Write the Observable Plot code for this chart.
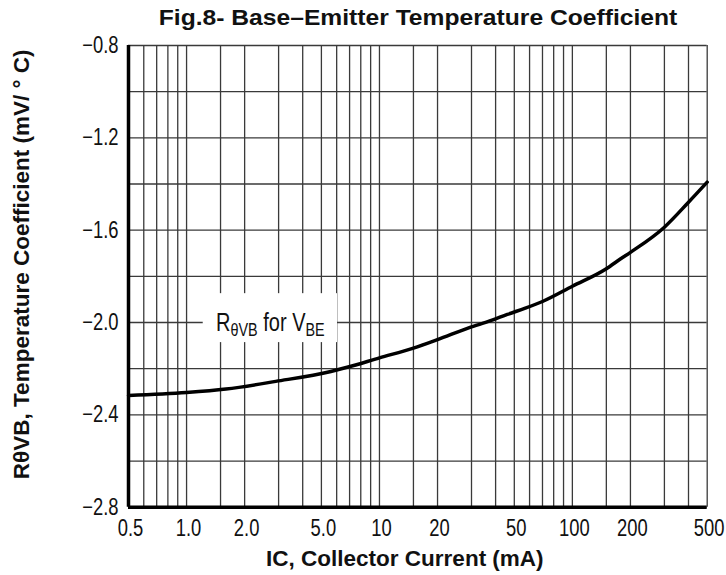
<!DOCTYPE html>
<html>
<head>
<meta charset="utf-8">
<script src="https://cdn.jsdelivr.net/npm/d3@7"></script>
<script src="https://cdn.jsdelivr.net/npm/@observablehq/plot@0.6"></script>
<style>
  html, body { margin: 0; padding: 0; background: #fff; }
  #wrap { position: relative; width: 726px; height: 575px; overflow: hidden; }
  #title { position: absolute; top: 7px; left: 110px; width: 616px; text-align: center;
           font: bold 22px/22px "Liberation Sans", Arial, sans-serif; color: #111;
           transform: scaleX(1.12); transform-origin: 308px 0; white-space: nowrap; }
  #chart { position: absolute; top: 30px; left: 0; }
</style>
</head>
<body>
<div id="wrap">
  <div id="title"></div>
  <div id="chart"></div>
</div>
<script>
// Collector current (mA) and base-emitter temperature coefficient (mV/°C)
const current = [0.5, 1.0, 1.6, 2.9, 5.6, 6.8, 10, 15, 20, 29, 38, 46, 57, 70, 100, 150, 178, 200, 300, 400, 500];
const coef = [-2.316, -2.303, -2.288, -2.255, -2.212, -2.194, -2.153, -2.111, -2.074, -2.023, -1.991, -1.965, -1.938, -1.909, -1.843, -1.767, -1.724, -1.696, -1.587, -1.479, -1.392];

const xTicks = [0.5, 1, 2, 5, 10, 20, 50, 100, 200, 500];
const xTickLabels = ["0.5", "1.0", "2.0", "5.0", "10", "20", "50", "100", "200", "500"];
const yTicks = [-0.8, -1.2, -1.6, -2.0, -2.4, -2.8];
const yTickLabels = ["−0.8", "−1.2", "−1.6", "−2.0", "−2.4", "−2.8"];
const xGrid = [0.5, 0.6, 0.7, 0.8, 0.9, 1, 1.5, 2, 3, 4, 5, 6, 7, 8, 9, 10, 15, 20, 30, 40, 50, 60, 70, 80, 90, 100, 150, 200, 300, 400, 500];
const yGrid = [-2.8, -2.6, -2.4, -2.2, -2.0, -1.8, -1.6, -1.4, -1.2, -1.0, -0.8];

const titleText = "Fig.8- Base–Emitter Temperature Coefficient";
const xLabel = "IC, Collector Current (mA)";
const yLabel = "RθVB, Temperature Coefficient (mV/ ° C)";
const curveLabel = "RθVB for VBE";

document.getElementById("title").textContent = titleText;

const sans = "'Liberation Sans', Arial, sans-serif";
const gridColor = "#3a3a3a";

const data = current.map((c, i) => ({current: c, coef: coef[i]}));

const chart = Plot.plot({
  width: 726,
  height: 545,
  marginTop: 15,
  marginBottom: 68.3,
  marginLeft: 128,
  marginRight: 19.3,
  style: {background: "white", color: "#111"},
  x: {type: "log", domain: [0.5, 500], axis: null},
  y: {domain: [-2.8, -0.8], axis: null},
  marks: [
    Plot.ruleX(xGrid, {stroke: gridColor, strokeWidth: 1.3}),
    Plot.ruleY(yGrid, {stroke: gridColor, strokeWidth: 1.3}),
    Plot.rect([curveLabel], {x1: 1.22, x2: 6.06, y1: -2.087, y2: -1.875, fill: "white"}),
    Plot.text([curveLabel], {x: 2.72, y: -2.0, text: d => d, fontFamily: sans, fontSize: 25, fill: "#111"}),
    Plot.line(data, {x: "current", y: "coef", curve: "monotone-x", stroke: "black", strokeWidth: 3.5}),
    Plot.ruleX([0.5], {stroke: "black", strokeWidth: 3.5}),
    Plot.ruleY([-2.8], {stroke: "black", strokeWidth: 3.5}),
    Plot.text(xTicks, {x: d => d, text: (d, i) => xTickLabels[i], frameAnchor: "bottom", lineAnchor: "top",
                       textAnchor: "middle", dx: 2, dy: 12, fontSize: 23, fontFamily: sans, fill: "#111"}),
    Plot.text(yTicks, {y: d => d, text: (d, i) => yTickLabels[i], frameAnchor: "left", lineAnchor: "middle",
                       textAnchor: "end", dx: -10, fontSize: 23, fontFamily: sans, fill: "#111"}),
    Plot.text([yLabel], {frameAnchor: "left", textAnchor: "middle", lineAnchor: "middle", dx: -107, dy: -12,
                         rotate: -90, text: d => d,
                         fontSize: 22.5, fontWeight: "bold", fontFamily: sans, fill: "#111"}),
    Plot.text([xLabel], {frameAnchor: "bottom", textAnchor: "middle", lineAnchor: "middle", dx: -13, dy: 52,
                         text: d => d,
                         fontSize: 22.5, fontWeight: "bold", fontFamily: sans, fill: "#111"})
  ]
});

const svg = d3.select(chart);

// subscripts in the curve label
svg.selectAll("text").filter(function() { return this.textContent === curveLabel; })
  .each(function() {
    const t = d3.select(this);
    t.text(null);
    t.append("tspan").text("R");
    t.append("tspan").attr("font-size", 18).attr("dy", 5).text("θVB");
    t.append("tspan").attr("dy", -5).text(" for V");
    t.append("tspan").attr("font-size", 18).attr("dy", 5).text("BE");
  });

// condensed look for tick labels and the curve label (like the datasheet's narrow face)
const narrowTexts = new Set([...xTickLabels, ...yTickLabels, curveLabel]);
svg.selectAll("text").filter(function() { return narrowTexts.has(this.textContent); }).each(function() {
  const tr = this.getAttribute("transform") || "";
  this.setAttribute("transform", `${tr} scale(0.8,1)`);
});

document.getElementById("chart").appendChild(chart);
</script>
</body>
</html>
